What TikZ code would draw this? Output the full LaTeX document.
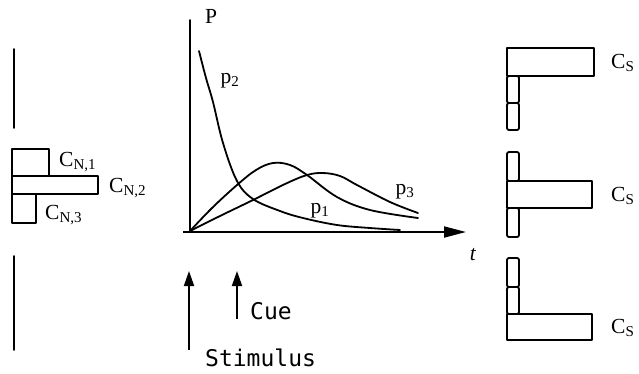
\documentclass[tikz,border=0pt]{standalone}
\usepackage{fontspec}
\setmainfont{Liberation Serif}
\newfontfamily\monofont{DejaVu Sans Mono}
\usetikzlibrary{arrows.meta}
\tikzset{
  lbl/.style={inner sep=0pt, anchor=west, font=\fontsize{21.5}{24}\selectfont},
  mlbl/.style={inner sep=0pt, font=\monofont\fontsize{23}{26}\selectfont},
  ln/.style={line width=1.8pt, line cap=round, line join=round},
  bx/.style={line width=1.8pt, line join=round},
  sbx/.style={line width=1.8pt, rounded corners=2pt},
  crv/.style={line width=1.8pt, line cap=round},
  arr/.style={line width=1.8pt, -{Triangle[length=15pt,width=10pt]}}
}
\begin{document}
\begin{tikzpicture}[x=1pt,y=-1pt]
\useasboundingbox (0,0) rectangle (639,373);
% left bars
\coordinate (l1a) at (14,49); \coordinate (l1b) at (14,128);
\coordinate (l2a) at (14,256); \coordinate (l2b) at (14,350);
\draw[ln] (l1a) -- (l1b);
\draw[ln] (l2a) -- (l2b);
% left boxes
\draw[bx] (12,149) rectangle (49,176);
\draw[bx] (12,176) rectangle (98,194);
\draw[bx] (12,194) rectangle (36,223);
\node[lbl] (cn1) at (59,162) {C\textsubscript{N,1}};
\node[lbl] (cn2) at (109,188) {C\textsubscript{N,2}};
\node[lbl] (cn3) at (45,215) {C\textsubscript{N,3}};
% axes
\coordinate (o) at (190,231);
\coordinate (ytop) at (190,20);
\coordinate (xl) at (183,232);
\coordinate (xr) at (466,232);
\draw[ln] (o) -- (ytop);
\draw[line width=1.8pt, -{Triangle[length=22pt,width=11pt]}] (xl) -- (xr);
\node[lbl, anchor=center] (P) at (211,16) {P};
\node[lbl, anchor=center] (t) at (473,255) {\textit{t}};
% curves
\draw[crv] plot[smooth, tension=0.6] coordinates {(199,51) (206,78) (213,102) (223,143) (237,181) (253,199) (280,211) (303,218) (337,225) (370,228) (400,230)};
\draw[crv] plot[smooth, tension=0.6] coordinates {(190,231) (212,208) (237,185) (256,170) (273,163) (290,165) (307,175) (337,197) (370,210) (418,218)};
\draw[crv] plot[smooth, tension=0.6] coordinates {(190,231) (220,216) (253,200) (285,184) (307,175) (323,173) (340,176) (357,185) (390,202) (418,213)};
\node[lbl, anchor=center] (p2) at (230,81) {p\textsubscript{2}};
\node[lbl, anchor=center] (p1) at (320,211) {p\textsubscript{1}};
\node[lbl, anchor=center] (p3) at (405,192) {p\textsubscript{3}};
% arrows
\coordinate (sa) at (189,350); \coordinate (sb) at (189,271);
\coordinate (ca) at (237,319); \coordinate (cb) at (237,271);
\draw[arr] (sa) -- (sb);
\draw[arr] (ca) -- (cb);
\node[mlbl, anchor=west] (cue) at (250,311) {Cue};
\node[mlbl, anchor=west] (stim) at (205,358) {Stimulus};
% right set 1
\draw[bx] (507,48) rectangle (594,76);
\draw[sbx] (507,76) rectangle (519,103);
\draw[sbx] (507,103) rectangle (519,130);
\node[lbl] (cs1) at (611,63) {C\textsubscript{S}};
% right set 2
\draw[sbx] (507,152) rectangle (519,181);
\draw[bx] (507,181) rectangle (592,208);
\draw[sbx] (507,208) rectangle (519,237);
\node[lbl] (cs2) at (611,196) {C\textsubscript{S}};
% right set 3
\draw[sbx] (507,258) rectangle (519,287);
\draw[sbx] (507,287) rectangle (519,314);
\draw[bx] (507,314) rectangle (592,340);
\node[lbl] (cs3) at (611,328) {C\textsubscript{S}};
\end{tikzpicture}
\end{document}
